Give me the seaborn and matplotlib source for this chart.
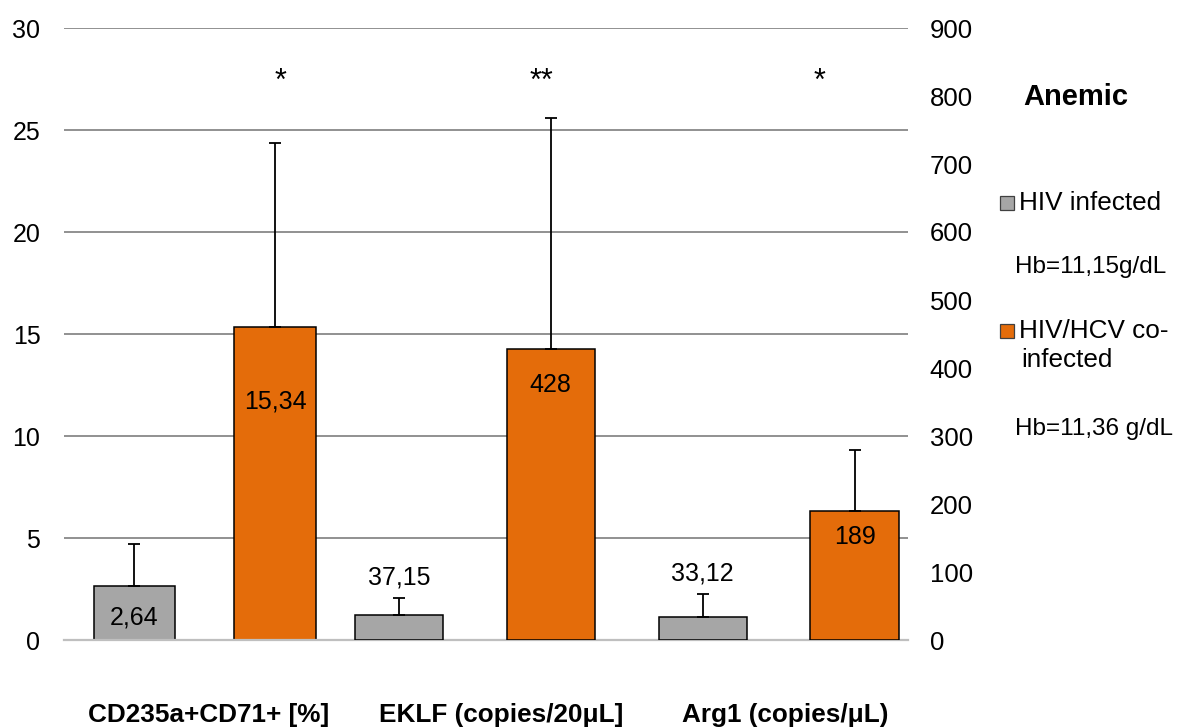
import numpy as np
import pandas as pd
import matplotlib
matplotlib.use("Agg")
import matplotlib.pyplot as plt
from matplotlib.patches import Rectangle
import seaborn as sns

# ---------------- data ----------------
categories = ["CD235a+CD71+ [%]", "EKLF (copies/20\u03bcL]", "Arg1 (copies/\u03bcL)"]
series_names = ["HIV infected", "HIV/HCV co-infected"]
hiv_values = [2.64, 37.15, 33.12]
coinf_values = [15.34, 428, 189]
hiv_err = [2.06, 24.6, 35.0]
coinf_err = [9.0, 340.0, 90.0]
hiv_labels = ["2,64", "37,15", "33,12"]
coinf_labels = ["15,34", "428", "189"]
significance = ["*", "**", "*"]
axis_side = ["left", "right", "right"]
legend_title = "Anemic"
legend_lines = [["HIV infected"], ["HIV/HCV co-", "infected"]]
hb_texts = ["Hb=11,15g/dL", "Hb=11,36 g/dL"]
left_ticks = [0, 5, 10, 15, 20, 25, 30]
right_ticks = [0, 100, 200, 300, 400, 500, 600, 700, 800, 900]

# ---------------- style / layout ----------------
sns.set_style("white")
plt.rcParams["font.family"] = ["Liberation Sans", "DejaVu Sans"]
plt.rcParams["text.color"] = "black"
GRAY = "#A6A6A6"
ORANGE = "#E46C0A"
palette = {series_names[0]: GRAY, series_names[1]: ORANGE}

W, H, DPI = 1181, 727, 100
group_centers = [0.5, 1.46, 2.54]
half_gap = [0.25, 0.27, 0.27]
cat_label_x = [0.515, 1.553, 2.563]
star_x = [0.771, 1.696, 2.684]
# label offsets from bar top (pixels): negative = inside bar
hiv_label_off = [-31, 37, 44]
coinf_label_off = [-74, -36, -26]

rows = []
for i, cat in enumerate(categories):
    rows.append(dict(pos=group_centers[i] - half_gap[i], value=hiv_values[i],
                     err=hiv_err[i], series=series_names[0], label=hiv_labels[i],
                     off=hiv_label_off[i], side=axis_side[i]))
    rows.append(dict(pos=group_centers[i] + half_gap[i], value=coinf_values[i],
                     err=coinf_err[i], series=series_names[1], label=coinf_labels[i],
                     off=coinf_label_off[i], side=axis_side[i]))
df = pd.DataFrame(rows)

fig = plt.figure(figsize=(W / DPI, H / DPI), dpi=DPI)
ax = fig.add_axes([64 / W, (H - 640) / H, 844 / W, 612 / H])
ax2 = ax.twinx()

for side, axis in (("left", ax), ("right", ax2)):
    d = df[df["side"] == side]
    sns.barplot(data=d, x="pos", y="value", hue="series", hue_order=series_names,
                palette=palette, saturation=1, native_scale=True, width=0.58,
                dodge=False, errorbar=None, edgecolor="black", linewidth=1.1,
                legend=False, ax=axis)
    axis.errorbar(d["pos"], d["value"], yerr=[np.zeros(len(d)), d["err"]],
                  fmt="none", ecolor="black", elinewidth=1.3, capsize=4,
                  capthick=1.3, zorder=3)
    for _, r in d.iterrows():
        axis.annotate(r["label"], (r["pos"], r["value"]),
                      xytext=(0, r["off"] * 72 / DPI), textcoords="offset points",
                      ha="center", va="center", fontsize=18, color="black")

ax.set_xlim(0, 3)
ax.set_ylim(0, 30)
ax2.set_ylim(0, 900)
ax.set_yticks(left_ticks)
ax2.set_yticks(right_ticks)
ax.set_yticklabels([str(t) for t in left_ticks])
ax2.set_yticklabels([str(t) for t in right_ticks])
ax.tick_params(axis="y", length=0, pad=17, labelsize=18, labelcolor="black")
ax2.tick_params(axis="y", length=0, pad=15.5, labelsize=18.5, labelcolor="black")
ax.set_xticks(cat_label_x)
ax.set_xticklabels(categories, fontweight="bold", fontsize=18.8)
ax.tick_params(axis="x", length=0, pad=45.5, labelcolor="black")
ax2.tick_params(axis="x", length=0, labelbottom=False)
for a in (ax, ax2):
    a.set_xlabel("")
    a.set_ylabel("")
    for s in a.spines.values():
        s.set_visible(False)
ax.spines["bottom"].set_visible(True)
ax.spines["bottom"].set_color("#BFBFBF")
ax.spines["bottom"].set_linewidth(1.6)
ax.yaxis.grid(True, color="#888888", linewidth=1.3)
ax.xaxis.grid(False)
ax.set_axisbelow(True)

# significance stars
for x, s in zip(star_x, significance):
    ax.text(x, 0.912, s, transform=ax.get_xaxis_transform(), ha="center",
            va="center", fontsize=22, color="black")

# legend-like annotation block on the right
def fx(px):
    return px / W

def fy(py):
    return 1 - py / H

fig.text(fx(1023), fy(105), legend_title, fontsize=21, fontweight="bold",
         va="baseline", ha="left", color="black")
sq = 14
entry_y = [202.5, 331]          # square centres (px)
line_base = [[210.5], [338.5, 367]]  # baselines of label lines (px)
for col, yc, lines, bases in zip((GRAY, ORANGE), entry_y, legend_lines, line_base):
    fig.patches.append(Rectangle((fx(1000), fy(yc + sq / 2)), sq / W, sq / H,
                                 transform=fig.transFigure, facecolor=col,
                                 edgecolor="#404040", linewidth=0.9))
    for j, (txt, b) in enumerate(zip(lines, bases)):
        fig.text(fx(1019 if j == 0 else 1021), fy(b), txt, fontsize=18.8,
                 va="baseline", ha="left", color="black")
fig.text(fx(1015), fy(273), hb_texts[0], fontsize=17.5, va="baseline", ha="left",
         color="black")
fig.text(fx(1015), fy(435), hb_texts[1], fontsize=17.5, va="baseline", ha="left",
         color="black")

fig.savefig("out.png", dpi=DPI)
